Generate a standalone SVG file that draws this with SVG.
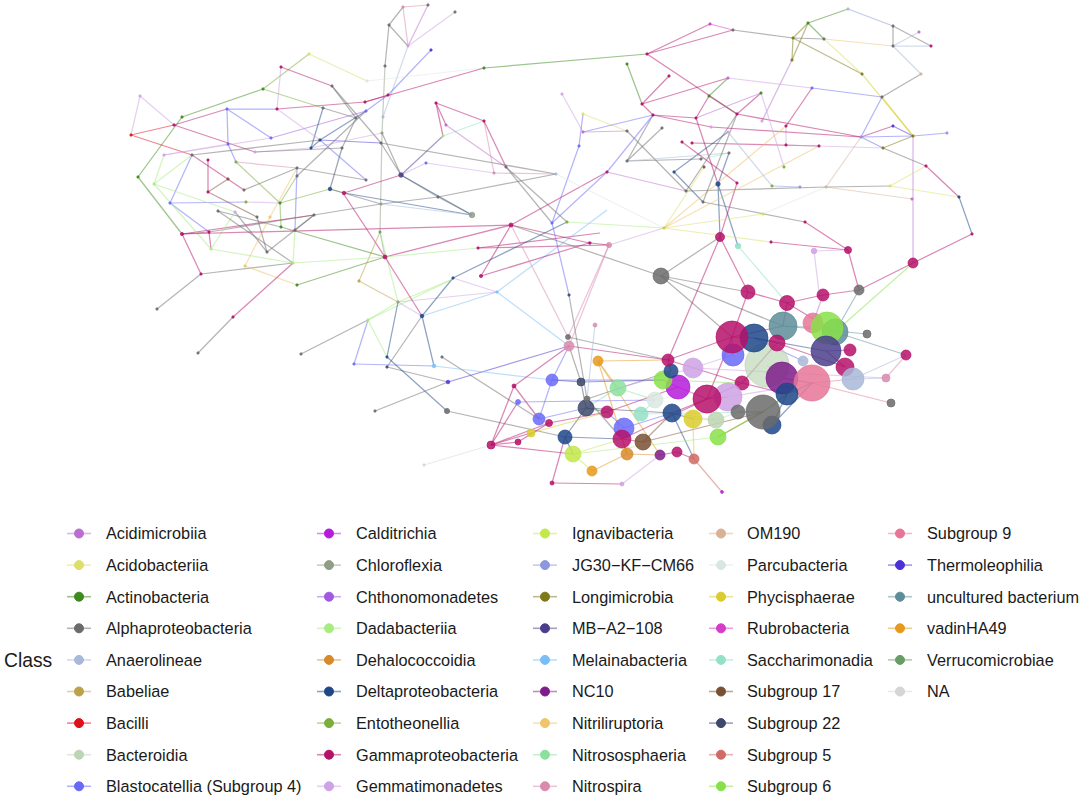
<svg xmlns="http://www.w3.org/2000/svg" width="1084" height="800" viewBox="0 0 1084 800">
<style>
.aci{stroke:#BA6FD0;fill:#BA6FD0}.acb{stroke:#DCE06A;fill:#DCE06A}.act{stroke:#3E8A1E;fill:#3E8A1E}.alp{stroke:#6B6B6B;fill:#6B6B6B}.ana{stroke:#A8B8D8;fill:#A8B8D8}.bab{stroke:#BBA24A;fill:#BBA24A}.bac{stroke:#E0101A;fill:#E0101A}.bcd{stroke:#BCD5B3;fill:#BCD5B3}.bla{stroke:#6A6AF8;fill:#6A6AF8}.cal{stroke:#B51BDB;fill:#B51BDB}.chl{stroke:#929D88;fill:#929D88}.cht{stroke:#A05AE0;fill:#A05AE0}.dad{stroke:#A8EB80;fill:#A8EB80}.deh{stroke:#D8892A;fill:#D8892A}.del{stroke:#1E4788;fill:#1E4788}.ent{stroke:#7CAE3C;fill:#7CAE3C}.gam{stroke:#B5116A;fill:#B5116A}.gem{stroke:#CEA2E4;fill:#CEA2E4}.ign{stroke:#C2E84A;fill:#C2E84A}.jg{stroke:#8E96DC;fill:#8E96DC}.lon{stroke:#7D781A;fill:#7D781A}.mb{stroke:#4A3E8C;fill:#4A3E8C}.mel{stroke:#7ABEF8;fill:#7ABEF8}.nc{stroke:#7E1C8A;fill:#7E1C8A}.nit{stroke:#EFC46A;fill:#EFC46A}.nso{stroke:#8CE09E;fill:#8CE09E}.nsp{stroke:#D88BAF;fill:#D88BAF}.om{stroke:#D8B296;fill:#D8B296}.par{stroke:#DAE7E1;fill:#DAE7E1}.phy{stroke:#D9CC2C;fill:#D9CC2C}.rub{stroke:#D63CC8;fill:#D63CC8}.sac{stroke:#94E1C6;fill:#94E1C6}.s17{stroke:#7A5034;fill:#7A5034}.s22{stroke:#3C496A;fill:#3C496A}.s5{stroke:#D06A64;fill:#D06A64}.s6{stroke:#88E048;fill:#88E048}.s9{stroke:#E67598;fill:#E67598}.the{stroke:#4A32D8;fill:#4A32D8}.unc{stroke:#5D8D99;fill:#5D8D99}.vad{stroke:#E6991C;fill:#E6991C}.ver{stroke:#699D65;fill:#699D65}.na{stroke:#D5D5D5;fill:#D5D5D5}
#connectors line{stroke-width:1.25;stroke-opacity:.5}
#nodes circle{fill-opacity:.85;stroke-width:.8;stroke-opacity:.9}
#nodes .pale{fill-opacity:.65}
#legend line{stroke-width:1.6;stroke-opacity:.5}
#legend text{font-family:"Liberation Sans",Arial,sans-serif;font-size:16.3px;fill:#1a1a1a}
</style>
<rect width="1084" height="800" fill="#fff"/>
<g id="connectors">
<line x1="389" y1="25" x2="403" y2="7" class="alp"/><line x1="403" y1="7" x2="428" y2="5" class="nsp"/><line x1="403" y1="7" x2="408" y2="46" class="nsp"/><line x1="389" y1="25" x2="408" y2="46" class="alp"/><line x1="428" y1="5" x2="408" y2="46" class="aci"/><line x1="408" y1="46" x2="455" y2="12" class="gem"/><line x1="389" y1="25" x2="385" y2="66" class="alp"/><line x1="385" y1="66" x2="382" y2="133" class="chl"/><line x1="382" y1="133" x2="380" y2="232" class="chl"/><line x1="408" y1="46" x2="383" y2="117" class="ana"/><line x1="431" y1="50" x2="388" y2="95" class="bla"/><line x1="388" y1="95" x2="366" y2="111" class="bla"/><line x1="366" y1="111" x2="320" y2="140" class="del"/><line x1="320" y1="140" x2="311" y2="148" class="del"/>
<line x1="309" y1="54" x2="367" y2="81" class="acb"/><line x1="367" y1="81" x2="484" y2="68" class="par"/><line x1="484" y1="68" x2="647" y2="54" class="act"/><line x1="263" y1="89" x2="309" y2="54" class="ent"/><line x1="281" y1="67" x2="332" y2="86" class="gam"/><line x1="281" y1="67" x2="277" y2="109" class="gem"/><line x1="332" y1="86" x2="381" y2="143" class="alp"/><line x1="263" y1="89" x2="182" y2="117" class="act"/><line x1="182" y1="117" x2="138" y2="177" class="act"/><line x1="138" y1="177" x2="182" y2="234" class="act"/><line x1="263" y1="89" x2="323" y2="108" class="ent"/><line x1="140" y1="96" x2="174" y2="125" class="gem"/><line x1="131" y1="135" x2="174" y2="125" class="bac"/><line x1="131" y1="135" x2="192" y2="155" class="bac"/><line x1="174" y1="125" x2="227" y2="109" class="gam"/><line x1="227" y1="109" x2="277" y2="109" class="bla"/><line x1="277" y1="109" x2="365" y2="102" class="gam"/><line x1="365" y1="102" x2="484" y2="68" class="gam"/><line x1="365" y1="102" x2="388" y2="95" class="gam"/><line x1="227" y1="109" x2="228" y2="144" class="bla"/><line x1="227" y1="109" x2="271" y2="138" class="bla"/><line x1="174" y1="125" x2="255" y2="152" class="gam"/><line x1="192" y1="155" x2="320" y2="140" class="alp"/><line x1="164" y1="155" x2="271" y2="138" class="gem"/>
<line x1="170" y1="203" x2="192" y2="155" class="bla"/><line x1="170" y1="203" x2="209" y2="232" class="bla"/><line x1="170" y1="203" x2="246" y2="202" class="bla"/><line x1="154" y1="184" x2="192" y2="155" class="dad"/><line x1="154" y1="184" x2="164" y2="155" class="dad"/><line x1="154" y1="184" x2="235" y2="212" class="dad"/><line x1="208" y1="160" x2="208" y2="192" class="gam"/><line x1="208" y1="192" x2="228" y2="179" class="s17"/><line x1="208" y1="192" x2="257" y2="217" class="s17"/><line x1="182" y1="234" x2="209" y2="232" class="gam"/><line x1="182" y1="234" x2="201" y2="274" class="gam"/><line x1="209" y1="232" x2="211" y2="249" class="gam"/><line x1="182" y1="234" x2="314" y2="215" class="gam"/><line x1="201" y1="274" x2="157" y2="309" class="alp"/><line x1="201" y1="274" x2="293" y2="263" class="alp"/><line x1="245" y1="266" x2="297" y2="285" class="nit"/><line x1="293" y1="263" x2="233" y2="317" class="gam"/><line x1="297" y1="285" x2="385" y2="257" class="act"/><line x1="385" y1="257" x2="380" y2="232" class="chl"/><line x1="385" y1="257" x2="511" y2="225" class="gam"/><line x1="385" y1="257" x2="478" y2="248" class="dad"/><line x1="385" y1="257" x2="343" y2="193" class="gam"/><line x1="359" y1="281" x2="380" y2="232" class="bab"/><line x1="359" y1="281" x2="398" y2="302" class="bab"/>
<line x1="271" y1="138" x2="366" y2="111" class="cht"/><line x1="255" y1="152" x2="311" y2="148" class="gem"/><line x1="320" y1="140" x2="381" y2="143" class="the"/><line x1="311" y1="148" x2="382" y2="133" class="gem"/><line x1="228" y1="144" x2="236" y2="162" class="bla"/><line x1="236" y1="162" x2="297" y2="168" class="nsp"/><line x1="236" y1="162" x2="280" y2="203" class="ent"/><line x1="297" y1="168" x2="366" y2="180" class="alp"/><line x1="297" y1="168" x2="244" y2="190" class="alp"/><line x1="342" y1="148" x2="330" y2="189" class="s22"/><line x1="330" y1="189" x2="344" y2="193" class="ent"/><line x1="344" y1="193" x2="401" y2="175" class="gam"/><line x1="401" y1="175" x2="426" y2="163" class="gem"/><line x1="401" y1="175" x2="472" y2="215" class="del"/><line x1="401" y1="175" x2="443" y2="136" class="mb"/><line x1="443" y1="136" x2="484" y2="121" class="sac"/><line x1="436" y1="103" x2="484" y2="121" class="gam"/><line x1="436" y1="103" x2="443" y2="136" class="gam"/><line x1="446" y1="125" x2="506" y2="167" class="aci"/><line x1="382" y1="133" x2="401" y2="175" class="alp"/><line x1="381" y1="143" x2="556" y2="174" class="alp"/><line x1="426" y1="163" x2="494" y2="173" class="gem"/><line x1="494" y1="173" x2="556" y2="174" class="nsp"/><line x1="484" y1="121" x2="494" y2="173" class="nsp"/><line x1="506" y1="167" x2="552" y2="223" class="alp"/><line x1="438" y1="197" x2="556" y2="174" class="alp"/><line x1="344" y1="193" x2="472" y2="215" class="del"/><line x1="330" y1="189" x2="381" y2="204" class="alp"/><line x1="381" y1="204" x2="438" y2="197" class="alp"/>
<line x1="280" y1="203" x2="330" y2="189" class="ent"/><line x1="280" y1="203" x2="281" y2="227" class="ent"/><line x1="281" y1="227" x2="385" y2="257" class="act"/><line x1="246" y1="202" x2="280" y2="203" class="gem"/><line x1="209" y1="232" x2="314" y2="215" class="alp"/><line x1="218" y1="211" x2="281" y2="227" class="alp"/><line x1="235" y1="212" x2="267" y2="252" class="alp"/><line x1="257" y1="217" x2="267" y2="252" class="alp"/><line x1="295" y1="230" x2="297" y2="168" class="bla"/><line x1="295" y1="230" x2="314" y2="215" class="alp"/><line x1="293" y1="263" x2="295" y2="230" class="dad"/><line x1="293" y1="263" x2="385" y2="257" class="dad"/><line x1="211" y1="249" x2="293" y2="263" class="dad"/><line x1="245" y1="266" x2="270" y2="217" class="nit"/><line x1="211" y1="249" x2="235" y2="212" class="dad"/><line x1="270" y1="217" x2="297" y2="168" class="nit"/><line x1="280" y1="203" x2="297" y2="176" class="ent"/><line x1="314" y1="215" x2="381" y2="204" class="alp"/><line x1="381" y1="204" x2="472" y2="215" class="ana"/><line x1="401" y1="175" x2="438" y2="197" class="alp"/><line x1="438" y1="197" x2="472" y2="215" class="alp"/><line x1="381" y1="143" x2="401" y2="175" class="alp"/><line x1="446" y1="125" x2="436" y2="103" class="gam"/><line x1="366" y1="180" x2="320" y2="140" class="bla"/><line x1="366" y1="111" x2="297" y2="176" class="alp"/><line x1="356" y1="118" x2="342" y2="148" class="alp"/><line x1="323" y1="108" x2="311" y2="148" class="del"/><line x1="323" y1="108" x2="356" y2="118" class="alp"/>
<line x1="154" y1="184" x2="211" y2="249" class="dad"/><line x1="218" y1="211" x2="293" y2="263" class="alp"/><line x1="267" y1="252" x2="314" y2="215" class="alp"/><line x1="182" y1="234" x2="511" y2="225" class="gam"/><line x1="484" y1="121" x2="506" y2="167" class="gam"/><line x1="506" y1="167" x2="567" y2="222" class="alp"/><line x1="511" y1="225" x2="607" y2="172" class="gam"/><line x1="478" y1="248" x2="600" y2="233" class="gam"/><line x1="552" y1="223" x2="607" y2="172" class="bla"/><line x1="497" y1="292" x2="607" y2="210" class="mel"/><line x1="398" y1="302" x2="497" y2="292" class="gem"/><line x1="368" y1="320" x2="453" y2="279" class="dad"/><line x1="491" y1="445" x2="518" y2="402" class="gam"/><line x1="164" y1="155" x2="228" y2="144" class="gem"/><line x1="140" y1="96" x2="131" y2="135" class="gem"/><line x1="192" y1="155" x2="244" y2="190" class="gam"/><line x1="255" y1="152" x2="342" y2="148" class="alp"/><line x1="277" y1="109" x2="320" y2="140" class="gem"/><line x1="332" y1="86" x2="356" y2="118" class="alp"/>
<line x1="511" y1="225" x2="589" y2="243" class="gam"/><line x1="511" y1="225" x2="481" y2="276" class="gam"/><line x1="453" y1="278" x2="567" y2="222" class="del"/><line x1="481" y1="276" x2="589" y2="243" class="gam"/><line x1="453" y1="278" x2="497" y2="292" class="gem"/><line x1="552" y1="223" x2="569" y2="295" class="bla"/><line x1="478" y1="248" x2="609" y2="245" class="gam"/><line x1="562" y1="94" x2="583" y2="132" class="gem"/><line x1="583" y1="114" x2="579" y2="146" class="bla"/><line x1="579" y1="146" x2="552" y2="223" class="bla"/><line x1="583" y1="114" x2="627" y2="131" class="acb"/><line x1="398" y1="302" x2="422" y2="316" class="gem"/><line x1="398" y1="302" x2="368" y2="320" class="dad"/><line x1="398" y1="302" x2="387" y2="357" class="del"/><line x1="422" y1="316" x2="453" y2="278" class="del"/><line x1="422" y1="316" x2="497" y2="292" class="mel"/><line x1="422" y1="316" x2="434" y2="366" class="del"/><line x1="422" y1="316" x2="387" y2="367" class="alp"/><line x1="368" y1="320" x2="354" y2="364" class="bla"/><line x1="368" y1="320" x2="387" y2="357" class="dad"/><line x1="368" y1="320" x2="301" y2="354" class="alp"/><line x1="354" y1="364" x2="434" y2="366" class="bla"/><line x1="387" y1="367" x2="448" y2="382" class="alp"/><line x1="387" y1="357" x2="447" y2="411" class="del"/><line x1="442" y1="357" x2="539" y2="419" class="alp"/><line x1="448" y1="382" x2="569" y2="346" class="the"/><line x1="434" y1="366" x2="552" y2="380" class="mel"/><line x1="375" y1="411" x2="448" y2="382" class="alp"/><line x1="447" y1="411" x2="565" y2="437" class="alp"/><line x1="380" y1="232" x2="398" y2="302" class="dad"/><line x1="233" y1="317" x2="198" y2="353" class="alp"/><line x1="398" y1="302" x2="453" y2="279" class="dad"/><line x1="385" y1="257" x2="422" y2="316" class="gam"/><line x1="424" y1="465" x2="491" y2="445" class="na"/><line x1="497" y1="292" x2="569" y2="346" class="mel"/>
<line x1="647" y1="54" x2="710" y2="24" class="gam"/><line x1="647" y1="54" x2="733" y2="30" class="gam"/><line x1="710" y1="24" x2="733" y2="30" class="rub"/><line x1="733" y1="30" x2="793" y2="38" class="alp"/><line x1="793" y1="38" x2="808" y2="23" class="lon"/><line x1="808" y1="23" x2="848" y2="9" class="act"/><line x1="848" y1="9" x2="893" y2="26" class="jg"/><line x1="893" y1="26" x2="893" y2="46" class="alp"/><line x1="893" y1="26" x2="931" y2="46" class="alp"/><line x1="893" y1="46" x2="931" y2="46" class="ana"/><line x1="893" y1="46" x2="919" y2="32" class="ana"/><line x1="893" y1="46" x2="921" y2="74" class="ana"/><line x1="921" y1="74" x2="882" y2="97" class="alp"/><line x1="808" y1="23" x2="824" y2="39" class="act"/><line x1="793" y1="38" x2="824" y2="39" class="alp"/><line x1="793" y1="38" x2="862" y2="74" class="lon"/><line x1="793" y1="38" x2="792" y2="60" class="lon"/><line x1="808" y1="23" x2="792" y2="60" class="lon"/><line x1="824" y1="39" x2="893" y2="46" class="nit"/><line x1="824" y1="39" x2="862" y2="74" class="acb"/><line x1="862" y1="74" x2="913" y2="136" class="phy"/><line x1="792" y1="60" x2="762" y2="121" class="aci"/><line x1="647" y1="54" x2="737" y2="114" class="gam"/><line x1="737" y1="114" x2="861" y2="137" class="gam"/>
<line x1="627" y1="64" x2="642" y2="104" class="act"/><line x1="669" y1="76" x2="642" y2="104" class="gam"/><line x1="642" y1="104" x2="728" y2="78" class="gam"/><line x1="728" y1="78" x2="709" y2="96" class="act"/><line x1="709" y1="96" x2="737" y2="114" class="s17"/><line x1="709" y1="96" x2="696" y2="118" class="gam"/><line x1="761" y1="93" x2="737" y2="114" class="gam"/><line x1="761" y1="93" x2="696" y2="118" class="aci"/><line x1="653" y1="115" x2="696" y2="118" class="gam"/><line x1="653" y1="115" x2="711" y2="127" class="gam"/><line x1="642" y1="104" x2="653" y2="115" class="gam"/><line x1="653" y1="115" x2="627" y2="161" class="alp"/><line x1="662" y1="128" x2="627" y2="161" class="alp"/><line x1="627" y1="131" x2="686" y2="191" class="alp"/><line x1="696" y1="118" x2="718" y2="184" class="gam"/><line x1="728" y1="132" x2="674" y2="172" class="del"/><line x1="729" y1="153" x2="718" y2="184" class="del"/><line x1="718" y1="184" x2="720" y2="237" class="del"/><line x1="718" y1="184" x2="738" y2="246" class="del"/><line x1="737" y1="183" x2="720" y2="237" class="gam"/><line x1="674" y1="172" x2="703" y2="202" class="del"/><line x1="703" y1="202" x2="805" y2="222" class="alp"/><line x1="805" y1="222" x2="848" y2="250" class="gam"/><line x1="763" y1="214" x2="826" y2="187" class="par"/><line x1="686" y1="191" x2="826" y2="187" class="alp"/><line x1="826" y1="187" x2="890" y2="186" class="alp"/><line x1="890" y1="186" x2="959" y2="197" class="acb"/><line x1="826" y1="187" x2="912" y2="199" class="om"/><line x1="826" y1="187" x2="861" y2="137" class="om"/><line x1="861" y1="137" x2="893" y2="126" class="gam"/><line x1="893" y1="126" x2="913" y2="136" class="the"/><line x1="913" y1="136" x2="947" y2="133" class="bla"/><line x1="861" y1="137" x2="913" y2="136" class="bla"/><line x1="861" y1="137" x2="883" y2="148" class="bla"/><line x1="883" y1="148" x2="913" y2="136" class="lon"/><line x1="883" y1="148" x2="926" y2="166" class="alp"/><line x1="926" y1="166" x2="959" y2="197" class="gam"/><line x1="959" y1="197" x2="972" y2="234" class="del"/><line x1="972" y1="234" x2="913" y2="263" class="gam"/><line x1="913" y1="136" x2="913" y2="263" class="aci"/><line x1="926" y1="166" x2="890" y2="186" class="acb"/><line x1="882" y1="97" x2="913" y2="136" class="phy"/><line x1="882" y1="97" x2="861" y2="137" class="bla"/>
<line x1="728" y1="78" x2="812" y2="88" class="gem"/><line x1="812" y1="88" x2="882" y2="97" class="bla"/><line x1="812" y1="88" x2="786" y2="126" class="gam"/><line x1="786" y1="126" x2="786" y2="145" class="gem"/><line x1="711" y1="127" x2="861" y2="137" class="gam"/><line x1="692" y1="143" x2="819" y2="146" class="gam"/><line x1="786" y1="145" x2="883" y2="148" class="gem"/><line x1="761" y1="93" x2="784" y2="167" class="gem"/><line x1="664" y1="228" x2="704" y2="167" class="acb"/><line x1="664" y1="228" x2="763" y2="214" class="acb"/><line x1="664" y1="228" x2="771" y2="242" class="acb"/><line x1="771" y1="242" x2="848" y2="250" class="gam"/><line x1="814" y1="251" x2="848" y2="250" class="gem"/><line x1="664" y1="228" x2="786" y2="126" class="nit"/><line x1="664" y1="228" x2="819" y2="146" class="nit"/><line x1="720" y1="237" x2="661" y2="276" class="alp"/><line x1="738" y1="246" x2="787" y2="303" class="sac"/><line x1="720" y1="237" x2="748" y2="292" class="gam"/><line x1="609" y1="245" x2="590" y2="243" class="gam"/><line x1="609" y1="245" x2="664" y2="228" class="gem"/><line x1="583" y1="132" x2="653" y2="115" class="bla"/><line x1="583" y1="132" x2="627" y2="131" class="aci"/><line x1="607" y1="172" x2="653" y2="115" class="bla"/><line x1="607" y1="172" x2="686" y2="191" class="aci"/><line x1="627" y1="161" x2="701" y2="159" class="alp"/><line x1="627" y1="161" x2="729" y2="153" class="ana"/><line x1="701" y1="159" x2="729" y2="153" class="sac"/><line x1="737" y1="114" x2="686" y2="191" class="alp"/><line x1="737" y1="114" x2="703" y2="202" class="alp"/><line x1="728" y1="132" x2="772" y2="186" class="ana"/><line x1="682" y1="142" x2="737" y2="183" class="gam"/><line x1="772" y1="186" x2="800" y2="187" class="jg"/><line x1="556" y1="174" x2="664" y2="228" class="par"/><line x1="567" y1="222" x2="664" y2="228" class="dad"/>
<line x1="661" y1="276" x2="748" y2="292" class="alp"/><line x1="661" y1="276" x2="732" y2="337" class="alp"/><line x1="661" y1="276" x2="783" y2="326" class="alp"/><line x1="661" y1="276" x2="511" y2="225" class="alp"/><line x1="748" y1="292" x2="787" y2="303" class="gam"/><line x1="748" y1="292" x2="732" y2="337" class="gam"/><line x1="787" y1="303" x2="823" y2="295" class="gam"/><line x1="823" y1="295" x2="859" y2="290" class="gam"/><line x1="787" y1="303" x2="783" y2="326" class="gam"/><line x1="787" y1="303" x2="835" y2="332" class="gam"/><line x1="859" y1="290" x2="835" y2="332" class="unc"/><line x1="913" y1="263" x2="835" y2="332" class="s6"/><line x1="823" y1="295" x2="813" y2="323" class="aci"/><line x1="783" y1="326" x2="827" y2="328" class="unc"/><line x1="732" y1="337" x2="754" y2="338" class="gam"/><line x1="732" y1="337" x2="783" y2="326" class="gam"/><line x1="754" y1="338" x2="777" y2="343" class="del"/><line x1="783" y1="326" x2="867" y2="334" class="unc"/><line x1="835" y1="332" x2="906" y2="355" class="unc"/><line x1="906" y1="355" x2="886" y2="378" class="nsp"/><line x1="826" y1="351" x2="850" y2="350" class="mb"/><line x1="845" y1="367" x2="826" y2="351" class="gam"/><line x1="733" y1="355" x2="732" y2="337" class="bla"/><line x1="767" y1="365" x2="782" y2="378" class="bcd"/><line x1="782" y1="378" x2="812" y2="383" class="nc"/><line x1="812" y1="383" x2="853" y2="379" class="s9"/><line x1="853" y1="379" x2="886" y2="378" class="ana"/><line x1="812" y1="383" x2="891" y2="403" class="s9"/><line x1="787" y1="394" x2="812" y2="383" class="del"/><line x1="787" y1="394" x2="772" y2="425" class="del"/><line x1="763" y1="412" x2="787" y2="394" class="alp"/><line x1="763" y1="412" x2="738" y2="412" class="alp"/><line x1="742" y1="383" x2="777" y2="343" class="gam"/><line x1="742" y1="383" x2="707" y2="399" class="gam"/><line x1="707" y1="399" x2="728" y2="397" class="gam"/><line x1="707" y1="399" x2="672" y2="413" class="gam"/><line x1="707" y1="399" x2="732" y2="337" class="gam"/>
<line x1="678" y1="387" x2="663" y2="380" class="cal"/><line x1="678" y1="387" x2="707" y2="399" class="cal"/><line x1="663" y1="380" x2="671" y2="371" class="s6"/><line x1="671" y1="371" x2="668" y2="360" class="del"/><line x1="668" y1="360" x2="732" y2="337" class="gam"/><line x1="693" y1="368" x2="733" y2="355" class="gem"/><line x1="693" y1="419" x2="716" y2="420" class="phy"/><line x1="716" y1="420" x2="738" y2="412" class="bcd"/><line x1="718" y1="437" x2="763" y2="412" class="s6"/><line x1="672" y1="413" x2="693" y2="419" class="del"/><line x1="672" y1="413" x2="694" y2="459" class="del"/><line x1="641" y1="414" x2="655" y2="400" class="sac"/><line x1="618" y1="388" x2="655" y2="400" class="nso"/><line x1="618" y1="388" x2="586" y2="408" class="nso"/><line x1="586" y1="408" x2="607" y2="412" class="s22"/><line x1="586" y1="408" x2="581" y2="382" class="s22"/><line x1="586" y1="408" x2="565" y2="437" class="s22"/><line x1="581" y1="382" x2="552" y2="380" class="s22"/><line x1="581" y1="382" x2="663" y2="380" class="s22"/><line x1="598" y1="361" x2="618" y2="388" class="vad"/><line x1="598" y1="361" x2="668" y2="360" class="vad"/><line x1="569" y1="346" x2="552" y2="380" class="bla"/><line x1="569" y1="346" x2="581" y2="382" class="alp"/><line x1="569" y1="346" x2="668" y2="360" class="gam"/><line x1="568" y1="337" x2="668" y2="360" class="alp"/><line x1="569" y1="346" x2="514" y2="386" class="gam"/><line x1="514" y1="386" x2="539" y2="419" class="gam"/><line x1="552" y1="380" x2="663" y2="380" class="bla"/><line x1="518" y1="402" x2="655" y2="400" class="bla"/><line x1="539" y1="419" x2="552" y2="380" class="bla"/><line x1="539" y1="419" x2="586" y2="408" class="bla"/><line x1="549" y1="423" x2="607" y2="412" class="gam"/><line x1="531" y1="433" x2="607" y2="412" class="phy"/><line x1="518" y1="442" x2="549" y2="423" class="gam"/><line x1="491" y1="445" x2="514" y2="386" class="gam"/><line x1="491" y1="445" x2="573" y2="454" class="gam"/><line x1="491" y1="445" x2="531" y2="433" class="gam"/><line x1="491" y1="445" x2="549" y2="423" class="gam"/><line x1="491" y1="445" x2="518" y2="442" class="gam"/>
<line x1="565" y1="437" x2="622" y2="439" class="del"/><line x1="565" y1="437" x2="573" y2="454" class="del"/><line x1="573" y1="454" x2="592" y2="471" class="ign"/><line x1="573" y1="454" x2="622" y2="439" class="ign"/><line x1="592" y1="471" x2="627" y2="454" class="vad"/><line x1="627" y1="454" x2="622" y2="439" class="deh"/><line x1="627" y1="454" x2="660" y2="455" class="deh"/><line x1="622" y1="439" x2="643" y2="442" class="gam"/><line x1="624" y1="428" x2="607" y2="412" class="bla"/><line x1="643" y1="442" x2="672" y2="413" class="s17"/><line x1="660" y1="455" x2="677" y2="452" class="nc"/><line x1="677" y1="452" x2="694" y2="459" class="gam"/><line x1="694" y1="459" x2="722" y2="492" class="s5"/><line x1="552" y1="483" x2="622" y2="484" class="gam"/><line x1="552" y1="483" x2="565" y2="437" class="gam"/><line x1="622" y1="484" x2="660" y2="455" class="gem"/><line x1="598" y1="361" x2="627" y2="454" class="vad"/><line x1="587" y1="399" x2="622" y2="439" class="alp"/><line x1="587" y1="399" x2="671" y2="371" class="alp"/><line x1="595" y1="325" x2="587" y2="399" class="ana"/><line x1="569" y1="295" x2="587" y2="399" class="alp"/><line x1="624" y1="428" x2="672" y2="413" class="bla"/><line x1="607" y1="412" x2="678" y2="387" class="gam"/><line x1="668" y1="360" x2="742" y2="383" class="gam"/><line x1="754" y1="338" x2="826" y2="351" class="del"/><line x1="754" y1="338" x2="803" y2="361" class="bla"/><line x1="777" y1="343" x2="845" y2="367" class="gam"/><line x1="853" y1="379" x2="906" y2="355" class="ana"/><line x1="742" y1="383" x2="787" y2="394" class="gam"/><line x1="728" y1="397" x2="812" y2="383" class="gem"/><line x1="763" y1="412" x2="718" y2="437" class="alp"/><line x1="772" y1="425" x2="812" y2="383" class="del"/><line x1="716" y1="420" x2="672" y2="413" class="bcd"/><line x1="655" y1="400" x2="742" y2="383" class="par"/><line x1="641" y1="414" x2="763" y2="412" class="sac"/><line x1="663" y1="380" x2="742" y2="383" class="s6"/><line x1="693" y1="368" x2="886" y2="378" class="gem"/><line x1="718" y1="437" x2="812" y2="383" class="ign"/><line x1="609" y1="245" x2="569" y2="346" class="nsp"/><line x1="814" y1="251" x2="820" y2="300" class="gem"/><line x1="848" y1="250" x2="859" y2="290" class="gam"/><line x1="859" y1="290" x2="913" y2="263" class="gam"/><line x1="693" y1="368" x2="618" y2="388" class="gem"/><line x1="598" y1="361" x2="660" y2="455" class="vad"/><line x1="586" y1="408" x2="672" y2="413" class="s22"/><line x1="643" y1="442" x2="763" y2="412" class="s17"/><line x1="622" y1="439" x2="707" y2="399" class="gam"/><line x1="573" y1="454" x2="718" y2="437" class="dad"/><line x1="693" y1="419" x2="694" y2="459" class="phy"/><line x1="568" y1="337" x2="511" y2="225" class="nsp"/><line x1="568" y1="337" x2="609" y2="245" class="nsp"/><line x1="668" y1="360" x2="720" y2="237" class="gam"/>
</g>
<g id="nodes">
<g id="n1"><circle cx="403" cy="7" r="1.2" class="nsp"/></g><g id="n2"><circle cx="428" cy="5" r="1.2" class="alp"/></g><g id="n3"><circle cx="389" cy="25" r="1.2" class="alp"/></g><g id="n4"><circle cx="408" cy="46" r="1.2" class="gem"/></g><g id="n5"><circle cx="455" cy="12" r="1.2" class="alp"/></g><g id="n6"><circle cx="431" cy="50" r="1.2" class="the"/></g><g id="n7"><circle cx="385" cy="66" r="1.2" class="alp"/></g><g id="n8"><circle cx="388" cy="95" r="1.2" class="gam"/></g><g id="n9"><circle cx="383" cy="117" r="1.2" class="ana"/></g><g id="n10"><circle cx="309" cy="54" r="1.2" class="acb"/></g><g id="n11"><circle cx="367" cy="81" r="1.2" class="par"/></g><g id="n12"><circle cx="484" cy="68" r="1.2" class="act"/></g><g id="n13"><circle cx="263" cy="89" r="1.2" class="act"/></g><g id="n14"><circle cx="281" cy="67" r="1.2" class="gam"/></g><g id="n15"><circle cx="332" cy="86" r="1.2" class="alp"/></g><g id="n16"><circle cx="182" cy="117" r="1.2" class="act"/></g><g id="n17"><circle cx="140" cy="96" r="1.2" class="gem"/></g><g id="n18"><circle cx="174" cy="125" r="1.2" class="gam"/></g><g id="n19"><circle cx="131" cy="135" r="1.2" class="bac"/></g><g id="n20"><circle cx="192" cy="155" r="1.2" class="alp"/></g>
<g id="n21"><circle cx="227" cy="109" r="1.2" class="bla"/></g><g id="n22"><circle cx="277" cy="109" r="1.2" class="gam"/></g><g id="n23"><circle cx="365" cy="102" r="1.2" class="gam"/></g><g id="n24"><circle cx="228" cy="144" r="1.2" class="bla"/></g><g id="n25"><circle cx="271" cy="138" r="1.2" class="bla"/></g><g id="n26"><circle cx="255" cy="152" r="1.2" class="gem"/></g><g id="n27"><circle cx="164" cy="155" r="1.2" class="gem"/></g><g id="n28"><circle cx="170" cy="203" r="1.2" class="bla"/></g><g id="n29"><circle cx="154" cy="184" r="1.2" class="dad"/></g><g id="n30"><circle cx="138" cy="177" r="1.2" class="act"/></g><g id="n31"><circle cx="208" cy="160" r="1.2" class="gam"/></g><g id="n32"><circle cx="208" cy="192" r="1.2" class="gam"/></g><g id="n33"><circle cx="228" cy="179" r="1.2" class="s17"/></g><g id="n34"><circle cx="244" cy="190" r="1.2" class="alp"/></g><g id="n35"><circle cx="246" cy="202" r="1.2" class="ent"/></g><g id="n36"><circle cx="218" cy="211" r="1.2" class="alp"/></g><g id="n37"><circle cx="235" cy="212" r="1.2" class="gem"/></g><g id="n38"><circle cx="257" cy="217" r="1.2" class="alp"/></g><g id="n39"><circle cx="182" cy="234" r="1.6" class="gam"/></g><g id="n40"><circle cx="209" cy="232" r="1.2" class="gam"/></g>
<g id="n41"><circle cx="211" cy="249" r="1.2" class="dad"/></g><g id="n42"><circle cx="201" cy="274" r="1.2" class="gam"/></g><g id="n43"><circle cx="157" cy="309" r="1.2" class="alp"/></g><g id="n44"><circle cx="293" cy="263" r="1.2" class="dad"/></g><g id="n45"><circle cx="245" cy="266" r="1.2" class="nit"/></g><g id="n46"><circle cx="297" cy="285" r="1.2" class="act"/></g><g id="n47"><circle cx="233" cy="317" r="1.2" class="gam"/></g><g id="n48"><circle cx="198" cy="353" r="1.2" class="alp"/></g><g id="n49"><circle cx="385" cy="257" r="2" class="gam"/></g><g id="n50"><circle cx="380" cy="232" r="1.2" class="ver"/></g><g id="n51"><circle cx="359" cy="281" r="1.2" class="bab"/></g><g id="n52"><circle cx="398" cy="302" r="1.2" class="chl"/></g><g id="n53"><circle cx="301" cy="354" r="1.2" class="alp"/></g><g id="n54"><circle cx="366" cy="111" r="1.2" class="bla"/></g><g id="n55"><circle cx="323" cy="108" r="1.2" class="alp"/></g><g id="n56"><circle cx="356" cy="118" r="1.2" class="alp"/></g><g id="n57"><circle cx="320" cy="140" r="1.2" class="del"/></g><g id="n58"><circle cx="311" cy="148" r="1.2" class="del"/></g><g id="n59"><circle cx="342" cy="148" r="1.2" class="alp"/></g><g id="n60"><circle cx="297" cy="168" r="1.2" class="alp"/></g>
<g id="n61"><circle cx="297" cy="176" r="1.2" class="alp"/></g><g id="n62"><circle cx="236" cy="162" r="1.2" class="ent"/></g><g id="n63"><circle cx="280" cy="203" r="1.2" class="act"/></g><g id="n64"><circle cx="281" cy="227" r="1.2" class="act"/></g><g id="n65"><circle cx="295" cy="230" r="1.2" class="alp"/></g><g id="n66"><circle cx="314" cy="215" r="1.2" class="alp"/></g><g id="n67"><circle cx="267" cy="252" r="1.2" class="alp"/></g><g id="n68"><circle cx="270" cy="217" r="1.2" class="nit"/></g><g id="n69"><circle cx="330" cy="189" r="1.8" class="del"/></g><g id="n70"><circle cx="344" cy="193" r="1.8" class="gam"/></g><g id="n71"><circle cx="366" cy="180" r="1.2" class="alp"/></g><g id="n72"><circle cx="401" cy="175" r="2.3" class="mb"/></g><g id="n73"><circle cx="426" cy="163" r="1.2" class="bla"/></g><g id="n74"><circle cx="381" cy="143" r="1.2" class="alp"/></g><g id="n75"><circle cx="382" cy="133" r="1.2" class="chl"/></g><g id="n76"><circle cx="436" cy="103" r="1.2" class="gam"/></g><g id="n77"><circle cx="446" cy="125" r="1.2" class="aci"/></g><g id="n78"><circle cx="443" cy="136" r="1.2" class="dad"/></g><g id="n79"><circle cx="484" cy="121" r="1.2" class="gam"/></g><g id="n80"><circle cx="472" cy="215" r="2.8" class="chl"/></g>
<g id="n81"><circle cx="438" cy="197" r="1.2" class="alp"/></g><g id="n82"><circle cx="381" cy="204" r="1.2" class="chl"/></g><g id="n83"><circle cx="506" cy="167" r="1.2" class="alp"/></g><g id="n84"><circle cx="494" cy="173" r="1.2" class="nsp"/></g><g id="n85"><circle cx="556" cy="174" r="1.2" class="ana"/></g><g id="n86"><circle cx="511" cy="225" r="2" class="gam"/></g><g id="n87"><circle cx="478" cy="248" r="1.2" class="gam"/></g><g id="n88"><circle cx="453" cy="278" r="1.2" class="del"/></g><g id="n89"><circle cx="481" cy="276" r="1.6" class="gam"/></g><g id="n90"><circle cx="497" cy="292" r="1.2" class="mel"/></g><g id="n91"><circle cx="422" cy="316" r="1.8" class="del"/></g><g id="n92"><circle cx="368" cy="320" r="1.2" class="dad"/></g><g id="n93"><circle cx="387" cy="357" r="1.2" class="del"/></g><g id="n94"><circle cx="387" cy="367" r="1.2" class="s22"/></g><g id="n95"><circle cx="354" cy="364" r="1.2" class="bla"/></g><g id="n96"><circle cx="434" cy="366" r="1.8" class="mel"/></g><g id="n97"><circle cx="442" cy="357" r="1.2" class="alp"/></g><g id="n98"><circle cx="448" cy="382" r="1.8" class="the"/></g><g id="n99"><circle cx="375" cy="411" r="1.2" class="alp"/></g><g id="n100"><circle cx="447" cy="411" r="2.6" class="alp"/></g>
<g id="n101"><circle cx="424" cy="465" r="1.2" class="na"/></g><g id="n102"><circle cx="552" cy="223" r="1.2" class="bla"/></g><g id="n103"><circle cx="567" cy="222" r="1.2" class="ent"/></g><g id="n104"><circle cx="589" cy="243" r="1.2" class="aci"/></g><g id="n105"><circle cx="609" cy="245" r="2.6" class="nsp"/></g><g id="n106"><circle cx="569" cy="295" r="1.2" class="s22"/></g><g id="n107"><circle cx="562" cy="94" r="1.2" class="gem"/></g><g id="n108"><circle cx="583" cy="114" r="1.2" class="acb"/></g><g id="n109"><circle cx="579" cy="146" r="1.2" class="bla"/></g><g id="n110"><circle cx="583" cy="132" r="1.2" class="aci"/></g><g id="n111"><circle cx="607" cy="172" r="1.2" class="gam"/></g><g id="n112"><circle cx="627" cy="64" r="1.2" class="act"/></g><g id="n113"><circle cx="669" cy="76" r="1.2" class="gam"/></g><g id="n114"><circle cx="642" cy="104" r="1.2" class="gam"/></g><g id="n115"><circle cx="653" cy="115" r="1.2" class="gam"/></g><g id="n116"><circle cx="662" cy="128" r="1.2" class="alp"/></g><g id="n117"><circle cx="627" cy="131" r="1.2" class="alp"/></g><g id="n118"><circle cx="627" cy="161" r="1.2" class="alp"/></g><g id="n119"><circle cx="647" cy="54" r="1.2" class="gam"/></g><g id="n120"><circle cx="710" cy="24" r="1.2" class="rub"/></g>
<g id="n121"><circle cx="733" cy="30" r="1.2" class="alp"/></g><g id="n122"><circle cx="728" cy="78" r="1.2" class="aci"/></g><g id="n123"><circle cx="709" cy="96" r="1.2" class="act"/></g><g id="n124"><circle cx="696" cy="118" r="1.2" class="gam"/></g><g id="n125"><circle cx="737" cy="114" r="1.2" class="gam"/></g><g id="n126"><circle cx="761" cy="93" r="1.2" class="act"/></g><g id="n127"><circle cx="711" cy="127" r="1.2" class="gem"/></g><g id="n128"><circle cx="728" cy="132" r="1.2" class="gem"/></g><g id="n129"><circle cx="682" cy="142" r="1.2" class="gam"/></g><g id="n130"><circle cx="692" cy="143" r="1.2" class="gam"/></g><g id="n131"><circle cx="729" cy="153" r="1.2" class="alp"/></g><g id="n132"><circle cx="704" cy="167" r="1.2" class="s17"/></g><g id="n133"><circle cx="701" cy="159" r="1.2" class="alp"/></g><g id="n134"><circle cx="674" cy="172" r="1.2" class="del"/></g><g id="n135"><circle cx="718" cy="184" r="2.2" class="del"/></g><g id="n136"><circle cx="737" cy="183" r="1.2" class="gam"/></g><g id="n137"><circle cx="686" cy="191" r="1.2" class="alp"/></g><g id="n138"><circle cx="703" cy="202" r="1.2" class="alp"/></g><g id="n139"><circle cx="664" cy="228" r="1.2" class="phy"/></g><g id="n140"><circle cx="763" cy="214" r="1.2" class="ign"/></g>
<g id="n141"><circle cx="771" cy="242" r="1.2" class="gam"/></g><g id="n142"><circle cx="805" cy="222" r="1.2" class="gam"/></g><g id="n143"><circle cx="814" cy="251" r="2.8" class="gem"/></g><g id="n144"><circle cx="848" cy="250" r="3.5" class="gam"/></g><g id="n145"><circle cx="720" cy="237" r="4.5" class="gam"/></g><g id="n146"><circle cx="738" cy="246" r="2.8" class="sac"/></g><g id="n147"><circle cx="772" cy="186" r="1.2" class="ent"/></g><g id="n148"><circle cx="784" cy="167" r="1.2" class="ent"/></g><g id="n149"><circle cx="762" cy="121" r="1.2" class="gem"/></g><g id="n150"><circle cx="786" cy="126" r="1.2" class="gam"/></g><g id="n151"><circle cx="786" cy="145" r="1.2" class="gam"/></g><g id="n152"><circle cx="812" cy="88" r="1.2" class="bla"/></g><g id="n153"><circle cx="819" cy="146" r="1.2" class="gam"/></g><g id="n154"><circle cx="800" cy="187" r="1.2" class="jg"/></g><g id="n155"><circle cx="826" cy="187" r="1.2" class="om"/></g><g id="n156"><circle cx="890" cy="186" r="1.2" class="acb"/></g><g id="n157"><circle cx="912" cy="199" r="1.2" class="aci"/></g><g id="n158"><circle cx="959" cy="197" r="1.2" class="del"/></g><g id="n159"><circle cx="972" cy="234" r="1.2" class="gam"/></g><g id="n160"><circle cx="913" cy="136" r="1.2" class="lon"/></g>
<g id="n161"><circle cx="947" cy="133" r="1.2" class="jg"/></g><g id="n162"><circle cx="893" cy="126" r="1.2" class="the"/></g><g id="n163"><circle cx="861" cy="137" r="1.2" class="jg"/></g><g id="n164"><circle cx="883" cy="148" r="1.2" class="lon"/></g><g id="n165"><circle cx="926" cy="166" r="1.2" class="gam"/></g><g id="n166"><circle cx="882" cy="97" r="1.2" class="alp"/></g><g id="n167"><circle cx="862" cy="74" r="1.2" class="lon"/></g><g id="n168"><circle cx="921" cy="74" r="1.2" class="om"/></g><g id="n169"><circle cx="893" cy="26" r="1.2" class="alp"/></g><g id="n170"><circle cx="919" cy="32" r="1.2" class="aci"/></g><g id="n171"><circle cx="931" cy="46" r="1.2" class="gam"/></g><g id="n172"><circle cx="893" cy="46" r="1.2" class="alp"/></g><g id="n173"><circle cx="848" cy="9" r="1.2" class="ana"/></g><g id="n174"><circle cx="808" cy="23" r="1.2" class="act"/></g><g id="n175"><circle cx="793" cy="38" r="1.2" class="lon"/></g><g id="n176"><circle cx="824" cy="39" r="1.2" class="alp"/></g><g id="n177"><circle cx="792" cy="60" r="1.2" class="lon"/></g><g id="n178"><circle cx="514" cy="386" r="2" class="gam"/></g><g id="n179"><circle cx="590" cy="243" r="1.2" class="gam"/></g>
<g id="n180"><circle cx="661" cy="276" r="8" class="alp"/></g><g id="n181"><circle cx="748" cy="292" r="7" class="gam"/></g><g id="n182"><circle cx="787" cy="303" r="7.5" class="gam"/></g><g id="n183"><circle cx="823" cy="295" r="6" class="gam"/></g><g id="n184"><circle cx="859" cy="290" r="5" class="alp"/></g><g id="n185"><circle cx="913" cy="263" r="5" class="gam"/></g><g id="n186"><circle cx="783" cy="326" r="14" class="unc"/></g><g id="n187"><circle cx="835" cy="332" r="13" class="unc"/></g><g id="n188"><circle cx="813" cy="323" r="10" class="s9"/></g><g id="n189"><circle cx="827" cy="328" r="16" class="s6"/></g><g id="n190"><circle cx="767" cy="365" r="22" class="bcd pale"/></g><g id="n191"><circle cx="754" cy="338" r="14" class="del"/></g><g id="n192"><circle cx="733" cy="355" r="11" class="bla"/></g><g id="n193"><circle cx="732" cy="337" r="16" class="gam"/></g><g id="n194"><circle cx="777" cy="343" r="8" class="gam"/></g><g id="n195"><circle cx="826" cy="351" r="15" class="mb"/></g><g id="n196"><circle cx="850" cy="350" r="6" class="gam"/></g><g id="n197"><circle cx="845" cy="367" r="9" class="gam"/></g><g id="n198"><circle cx="803" cy="361" r="5" class="ana"/></g><g id="n199"><circle cx="867" cy="334" r="4" class="alp"/></g><g id="n200"><circle cx="906" cy="355" r="5" class="gam"/></g>
<g id="n201"><circle cx="853" cy="379" r="11" class="ana"/></g><g id="n202"><circle cx="782" cy="378" r="16" class="nc"/></g><g id="n203"><circle cx="812" cy="383" r="18" class="s9"/></g><g id="n204"><circle cx="886" cy="378" r="4" class="nsp"/></g><g id="n205"><circle cx="891" cy="403" r="4" class="alp"/></g><g id="n206"><circle cx="787" cy="394" r="11" class="del"/></g><g id="n207"><circle cx="742" cy="383" r="7" class="gam"/></g><g id="n208"><circle cx="728" cy="397" r="14" class="gem"/></g><g id="n209"><circle cx="707" cy="399" r="14" class="gam"/></g><g id="n210"><circle cx="772" cy="425" r="9" class="del"/></g><g id="n211"><circle cx="763" cy="412" r="17" class="alp"/></g><g id="n212"><circle cx="738" cy="412" r="7" class="alp"/></g><g id="n213"><circle cx="716" cy="420" r="8" class="bcd"/></g><g id="n214"><circle cx="718" cy="437" r="8" class="s6"/></g><g id="n215"><circle cx="693" cy="419" r="9" class="phy"/></g><g id="n216"><circle cx="672" cy="413" r="9" class="del"/></g><g id="n217"><circle cx="678" cy="387" r="12" class="cal"/></g><g id="n218"><circle cx="663" cy="380" r="9" class="s6"/></g><g id="n219"><circle cx="671" cy="371" r="7" class="del"/></g><g id="n220"><circle cx="668" cy="360" r="6" class="gam"/></g>
<g id="n221"><circle cx="693" cy="368" r="10" class="gem"/></g><g id="n222"><circle cx="655" cy="400" r="8" class="par"/></g><g id="n223"><circle cx="641" cy="414" r="7" class="sac"/></g><g id="n224"><circle cx="618" cy="388" r="8" class="nso"/></g><g id="n225"><circle cx="586" cy="408" r="8" class="s22"/></g><g id="n226"><circle cx="581" cy="382" r="4" class="s22"/></g><g id="n227"><circle cx="587" cy="399" r="3" class="alp"/></g><g id="n228"><circle cx="598" cy="361" r="5" class="vad"/></g><g id="n229"><circle cx="569" cy="346" r="5" class="nsp"/></g><g id="n230"><circle cx="568" cy="337" r="2.5" class="alp"/></g><g id="n231"><circle cx="595" cy="325" r="2" class="nsp"/></g><g id="n232"><circle cx="552" cy="380" r="6" class="bla"/></g><g id="n233"><circle cx="518" cy="402" r="2.5" class="bla"/></g><g id="n234"><circle cx="607" cy="412" r="6" class="gam"/></g><g id="n235"><circle cx="624" cy="428" r="10" class="bla"/></g><g id="n236"><circle cx="622" cy="439" r="9" class="gam"/></g><g id="n237"><circle cx="643" cy="442" r="8" class="s17"/></g><g id="n238"><circle cx="627" cy="454" r="6" class="deh"/></g><g id="n239"><circle cx="539" cy="419" r="6" class="bla"/></g><g id="n240"><circle cx="549" cy="423" r="3.5" class="gam"/></g>
<g id="n241"><circle cx="531" cy="433" r="4" class="phy"/></g><g id="n242"><circle cx="518" cy="442" r="3" class="gam"/></g><g id="n243"><circle cx="565" cy="437" r="7" class="del"/></g><g id="n244"><circle cx="491" cy="445" r="4" class="gam"/></g><g id="n245"><circle cx="573" cy="454" r="8" class="ign"/></g><g id="n246"><circle cx="592" cy="471" r="5" class="vad"/></g><g id="n247"><circle cx="660" cy="455" r="5" class="nc"/></g><g id="n248"><circle cx="677" cy="452" r="5" class="gam"/></g><g id="n249"><circle cx="694" cy="459" r="5" class="s5"/></g><g id="n250"><circle cx="552" cy="483" r="2" class="gam"/></g><g id="n251"><circle cx="622" cy="484" r="2" class="gem"/></g><g id="n252"><circle cx="722" cy="492" r="1.4" class="cal"/></g>
</g>
<g id="legend">
<text x="4" y="666.5" style="font-size:19.3px">Class</text>
<g id="lg-col1">
<line x1="67" y1="533.5" x2="91" y2="533.5" class="aci"/><circle cx="79" cy="533.5" r="4.5" class="aci"/><text x="106" y="539.3">Acidimicrobiia</text>
<line x1="67" y1="565.1" x2="91" y2="565.1" class="acb"/><circle cx="79" cy="565.1" r="4.5" class="acb"/><text x="106" y="570.9">Acidobacteriia</text>
<line x1="67" y1="596.7" x2="91" y2="596.7" class="act"/><circle cx="79" cy="596.7" r="4.5" class="act"/><text x="106" y="602.5">Actinobacteria</text>
<line x1="67" y1="628.3" x2="91" y2="628.3" class="alp"/><circle cx="79" cy="628.3" r="4.5" class="alp"/><text x="106" y="634.1">Alphaproteobacteria</text>
<line x1="67" y1="659.9" x2="91" y2="659.9" class="ana"/><circle cx="79" cy="659.9" r="4.5" class="ana"/><text x="106" y="665.7">Anaerolineae</text>
<line x1="67" y1="691.5" x2="91" y2="691.5" class="bab"/><circle cx="79" cy="691.5" r="4.5" class="bab"/><text x="106" y="697.3">Babeliae</text>
<line x1="67" y1="723.1" x2="91" y2="723.1" class="bac"/><circle cx="79" cy="723.1" r="4.5" class="bac"/><text x="106" y="728.9">Bacilli</text>
<line x1="67" y1="754.7" x2="91" y2="754.7" class="bcd"/><circle cx="79" cy="754.7" r="4.5" class="bcd"/><text x="106" y="760.5">Bacteroidia</text>
<line x1="67" y1="786.3" x2="91" y2="786.3" class="bla"/><circle cx="79" cy="786.3" r="4.5" class="bla"/><text x="106" y="792.1">Blastocatellia (Subgroup 4)</text>
</g>
<g id="lg-col2">
<line x1="317" y1="533.5" x2="341" y2="533.5" class="cal"/><circle cx="329" cy="533.5" r="4.5" class="cal"/><text x="356" y="539.3">Calditrichia</text>
<line x1="317" y1="565.1" x2="341" y2="565.1" class="chl"/><circle cx="329" cy="565.1" r="4.5" class="chl"/><text x="356" y="570.9">Chloroflexia</text>
<line x1="317" y1="596.7" x2="341" y2="596.7" class="cht"/><circle cx="329" cy="596.7" r="4.5" class="cht"/><text x="356" y="602.5">Chthonomonadetes</text>
<line x1="317" y1="628.3" x2="341" y2="628.3" class="dad"/><circle cx="329" cy="628.3" r="4.5" class="dad"/><text x="356" y="634.1">Dadabacteriia</text>
<line x1="317" y1="659.9" x2="341" y2="659.9" class="deh"/><circle cx="329" cy="659.9" r="4.5" class="deh"/><text x="356" y="665.7">Dehalococcoidia</text>
<line x1="317" y1="691.5" x2="341" y2="691.5" class="del"/><circle cx="329" cy="691.5" r="4.5" class="del"/><text x="356" y="697.3">Deltaproteobacteria</text>
<line x1="317" y1="723.1" x2="341" y2="723.1" class="ent"/><circle cx="329" cy="723.1" r="4.5" class="ent"/><text x="356" y="728.9">Entotheonellia</text>
<line x1="317" y1="754.7" x2="341" y2="754.7" class="gam"/><circle cx="329" cy="754.7" r="4.5" class="gam"/><text x="356" y="760.5">Gammaproteobacteria</text>
<line x1="317" y1="786.3" x2="341" y2="786.3" class="gem"/><circle cx="329" cy="786.3" r="4.5" class="gem"/><text x="356" y="792.1">Gemmatimonadetes</text>
</g>
<g id="lg-col3">
<line x1="533" y1="533.5" x2="557" y2="533.5" class="ign"/><circle cx="545" cy="533.5" r="4.5" class="ign"/><text x="572" y="539.3">Ignavibacteria</text>
<line x1="533" y1="565.1" x2="557" y2="565.1" class="jg"/><circle cx="545" cy="565.1" r="4.5" class="jg"/><text x="572" y="570.9">JG30−KF−CM66</text>
<line x1="533" y1="596.7" x2="557" y2="596.7" class="lon"/><circle cx="545" cy="596.7" r="4.5" class="lon"/><text x="572" y="602.5">Longimicrobia</text>
<line x1="533" y1="628.3" x2="557" y2="628.3" class="mb"/><circle cx="545" cy="628.3" r="4.5" class="mb"/><text x="572" y="634.1">MB−A2−108</text>
<line x1="533" y1="659.9" x2="557" y2="659.9" class="mel"/><circle cx="545" cy="659.9" r="4.5" class="mel"/><text x="572" y="665.7">Melainabacteria</text>
<line x1="533" y1="691.5" x2="557" y2="691.5" class="nc"/><circle cx="545" cy="691.5" r="4.5" class="nc"/><text x="572" y="697.3">NC10</text>
<line x1="533" y1="723.1" x2="557" y2="723.1" class="nit"/><circle cx="545" cy="723.1" r="4.5" class="nit"/><text x="572" y="728.9">Nitriliruptoria</text>
<line x1="533" y1="754.7" x2="557" y2="754.7" class="nso"/><circle cx="545" cy="754.7" r="4.5" class="nso"/><text x="572" y="760.5">Nitrososphaeria</text>
<line x1="533" y1="786.3" x2="557" y2="786.3" class="nsp"/><circle cx="545" cy="786.3" r="4.5" class="nsp"/><text x="572" y="792.1">Nitrospira</text>
</g>
<g id="lg-col4">
<line x1="709" y1="533.5" x2="733" y2="533.5" class="om"/><circle cx="721" cy="533.5" r="4.5" class="om"/><text x="747" y="539.3">OM190</text>
<line x1="709" y1="565.1" x2="733" y2="565.1" class="par"/><circle cx="721" cy="565.1" r="4.5" class="par"/><text x="747" y="570.9">Parcubacteria</text>
<line x1="709" y1="596.7" x2="733" y2="596.7" class="phy"/><circle cx="721" cy="596.7" r="4.5" class="phy"/><text x="747" y="602.5">Phycisphaerae</text>
<line x1="709" y1="628.3" x2="733" y2="628.3" class="rub"/><circle cx="721" cy="628.3" r="4.5" class="rub"/><text x="747" y="634.1">Rubrobacteria</text>
<line x1="709" y1="659.9" x2="733" y2="659.9" class="sac"/><circle cx="721" cy="659.9" r="4.5" class="sac"/><text x="747" y="665.7">Saccharimonadia</text>
<line x1="709" y1="691.5" x2="733" y2="691.5" class="s17"/><circle cx="721" cy="691.5" r="4.5" class="s17"/><text x="747" y="697.3">Subgroup 17</text>
<line x1="709" y1="723.1" x2="733" y2="723.1" class="s22"/><circle cx="721" cy="723.1" r="4.5" class="s22"/><text x="747" y="728.9">Subgroup 22</text>
<line x1="709" y1="754.7" x2="733" y2="754.7" class="s5"/><circle cx="721" cy="754.7" r="4.5" class="s5"/><text x="747" y="760.5">Subgroup 5</text>
<line x1="709" y1="786.3" x2="733" y2="786.3" class="s6"/><circle cx="721" cy="786.3" r="4.5" class="s6"/><text x="747" y="792.1">Subgroup 6</text>
</g>
<g id="lg-col5">
<line x1="888" y1="533.5" x2="912" y2="533.5" class="s9"/><circle cx="900" cy="533.5" r="4.5" class="s9"/><text x="927" y="539.3">Subgroup 9</text>
<line x1="888" y1="565.1" x2="912" y2="565.1" class="the"/><circle cx="900" cy="565.1" r="4.5" class="the"/><text x="927" y="570.9">Thermoleophilia</text>
<line x1="888" y1="596.7" x2="912" y2="596.7" class="unc"/><circle cx="900" cy="596.7" r="4.5" class="unc"/><text x="927" y="602.5">uncultured bacterium</text>
<line x1="888" y1="628.3" x2="912" y2="628.3" class="vad"/><circle cx="900" cy="628.3" r="4.5" class="vad"/><text x="927" y="634.1">vadinHA49</text>
<line x1="888" y1="659.9" x2="912" y2="659.9" class="ver"/><circle cx="900" cy="659.9" r="4.5" class="ver"/><text x="927" y="665.7">Verrucomicrobiae</text>
<line x1="888" y1="691.5" x2="912" y2="691.5" class="na"/><circle cx="900" cy="691.5" r="4.5" class="na"/><text x="927" y="697.3">NA</text>
</g>
</g>
</svg>
